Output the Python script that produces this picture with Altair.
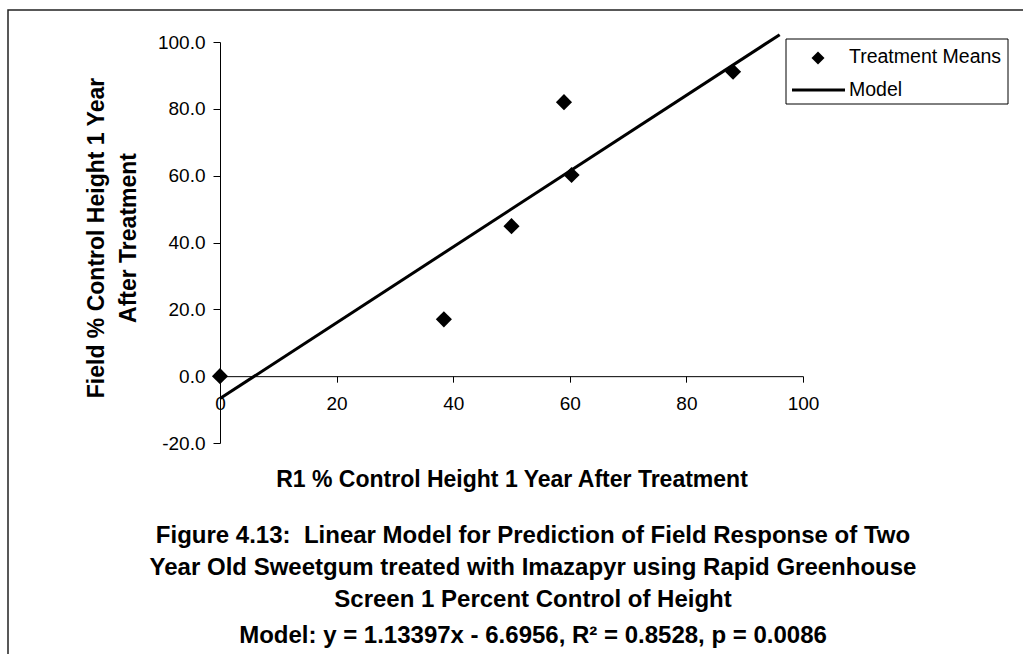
import altair as alt
import pandas as pd

# Treatment means
mean_x = [0.0, 38.4, 50.0, 59.0, 60.3, 88.0]
mean_y = [0.0, 17.0, 44.9, 82.0, 60.2, 91.1]

# Model line end points (y = 1.13397x - 6.6956)
model_x = [0.0, 96.0]
model_y = [-6.7, 102.2]

x_ticks = [0, 20, 40, 60, 80, 100]
y_ticks = [-20, 0, 20, 40, 60, 80, 100]

x_title = "R1 % Control Height 1 Year After Treatment"
y_title = ["Field % Control Height 1 Year", "After Treatment"]
caption = [
    "Figure 4.13:\u00a0 Linear Model for Prediction of Field Response of Two",
    "Year Old Sweetgum treated with Imazapyr using Rapid Greenhouse",
    "Screen 1 Percent Control of Height",
]
model_text = "Model: y = 1.13397x - 6.6956, R² = 0.8528, p = 0.0086"
legend_labels = ["Treatment Means", "Model"]

FONT = "Liberation Sans"
W, H = 583, 401

means = pd.DataFrame({"x": mean_x, "y": mean_y})
model = pd.DataFrame({"x": model_x, "y": model_y})
one = pd.DataFrame({"a": [0]})

xscale = alt.Scale(domain=[0, 100], nice=False, zero=False)
yscale = alt.Scale(domain=[-20, 100], nice=False, zero=False)

y_zero_px = H * 100 / 120.0

xaxis = alt.Axis(
    values=x_ticks, format="d", grid=False, title=None,
    offset=-(H - y_zero_px), domainColor="black", tickColor="black",
    tickSize=6, labelPadding=12, labelFontSize=19, labelFont=FONT,
    labelColor="black", labelFlush=False, labelOverlap=False,
)
yaxis = alt.Axis(
    values=y_ticks, grid=False, title=None,
    labelExpr="replace(format(datum.value, '.1f'), '\u2212', '-')",
    domainColor="black", tickColor="black", tickSize=7, labelPadding=8,
    labelFontSize=19, labelFont=FONT, labelColor="black",
)

line = alt.Chart(model).mark_line(color="black", strokeWidth=3, clip=False).encode(
    x=alt.X("x:Q", scale=xscale, axis=xaxis),
    y=alt.Y("y:Q", scale=yscale, axis=yaxis),
)
pts = alt.Chart(means).mark_point(shape="diamond", filled=True, color="black", size=260, opacity=1).encode(
    x=alt.X("x:Q", scale=xscale),
    y=alt.Y("y:Q", scale=yscale),
)

ox, oy = 220, 42  # page position of plot origin

frame = alt.Chart(one).mark_rect(fill=None, stroke="#222222", strokeWidth=1.5).encode(
    x=alt.value(8 - ox), x2=alt.value(1100 - ox), y=alt.value(10 - oy), y2=alt.value(720 - oy)
)

ytitle = alt.Chart(one).mark_text(
    text=y_title, angle=270, font=FONT, fontSize=23, fontWeight="bold",
    lineHeight=32, align="center", baseline="middle", color="black",
).encode(x=alt.value(97 - ox), y=alt.value(238 - oy))

xtitle = alt.Chart(one).mark_text(
    text=x_title, font=FONT, fontSize=23, fontWeight="bold", align="center",
    baseline="middle", color="black",
).encode(x=alt.value(512 - ox), y=alt.value(480 - oy))

cap = alt.Chart(one).mark_text(
    text=caption, font=FONT, fontSize=24, fontWeight="bold", align="center",
    baseline="top", lineHeight=32, color="black",
).encode(x=alt.value(533 - ox), y=alt.value(524 - oy))

cap2 = alt.Chart(one).mark_text(
    text=model_text, font=FONT, fontSize=24, fontWeight="bold", align="center",
    baseline="middle", color="black",
).encode(x=alt.value(533 - ox), y=alt.value(636 - oy))

leg_box = alt.Chart(one).mark_rect(fill="white", stroke="black", strokeWidth=1).encode(
    x=alt.value(786 - ox), x2=alt.value(1008 - ox), y=alt.value(39 - oy), y2=alt.value(104 - oy)
)
leg_pt = alt.Chart(one).mark_point(shape="diamond", filled=True, color="black", size=170, opacity=1).encode(
    x=alt.value(818 - ox), y=alt.value(58 - oy)
)
leg_line = alt.Chart(one).mark_rule(color="black", strokeWidth=3).encode(
    x=alt.value(792 - ox), x2=alt.value(845 - ox), y=alt.value(90 - oy)
)
leg_t1 = alt.Chart(one).mark_text(
    text=legend_labels[0], font=FONT, fontSize=19.5, align="left", baseline="middle", color="black"
).encode(x=alt.value(849 - ox), y=alt.value(57 - oy))
leg_t2 = alt.Chart(one).mark_text(
    text=legend_labels[1], font=FONT, fontSize=19.5, align="left", baseline="middle", color="black"
).encode(x=alt.value(849 - ox), y=alt.value(90 - oy))

chart = alt.layer(
    frame, line, pts, ytitle, xtitle, cap, cap2, leg_box, leg_pt, leg_line, leg_t1, leg_t2
).properties(
    width=W, height=H, background="white",
    padding={"left": ox, "top": oy, "right": 1023 - ox - W, "bottom": 654 - oy - H},
    autosize=alt.AutoSizeParams(type="none"),
).configure_view(stroke=None)

chart.save("out.html", embed_options={"renderer": "svg", "actions": False})
